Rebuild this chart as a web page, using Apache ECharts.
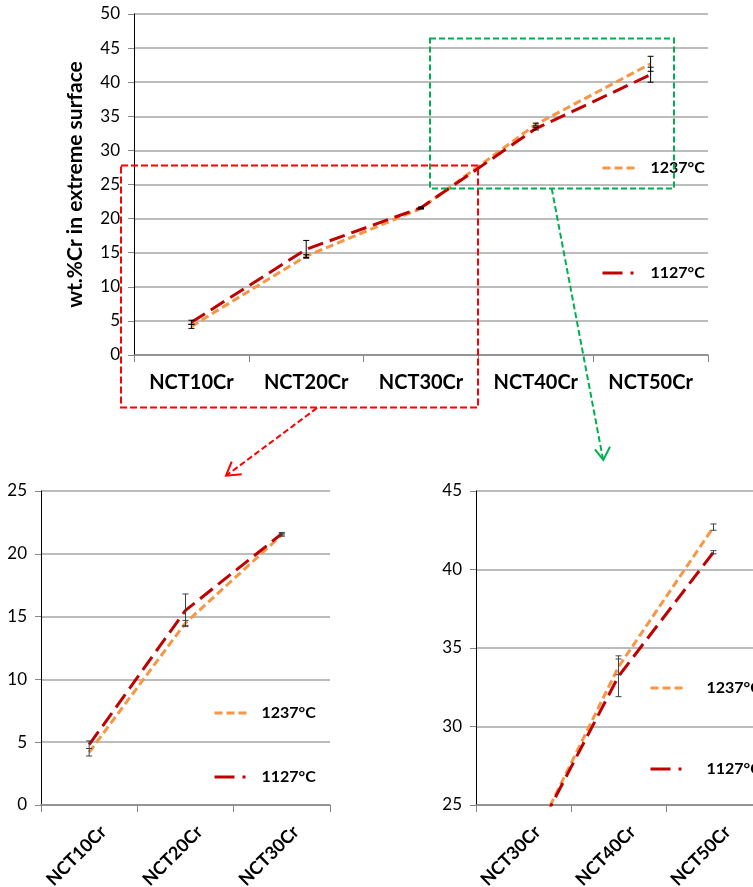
<!DOCTYPE html>
<html><head><meta charset="utf-8">
<script src="https://cdn.jsdelivr.net/npm/echarts@6/dist/echarts.min.js"></script>
<style>html,body{margin:0;padding:0;background:#fff}#c{width:753px;height:887px}</style>
</head><body><div id="c"></div>
<script>
// ---- data ----
const categories = ['NCT10Cr', 'NCT20Cr', 'NCT30Cr', 'NCT40Cr', 'NCT50Cr'];
const seriesNames = ['1237°C', '1127°C'];
const values1237 = [4.2, 14.5, 21.5, 33.8, 42.7];
const values1127 = [4.8, 15.5, 21.6, 33.2, 41.1];
const err1237 = [0.3, 0.2, 0.1, 0.2, 1.1];
const err1127 = [0.3, 1.3, 0.1, 0.2, 1.1];
const err1237Zoom = [0.3, 0.2, 0.1, 0.5, 0.2];
const err1127Zoom = [0.3, 1.3, 0.1, 1.3, 0.1];
const yTopTicks = [0, 50, 5];      // min, max, interval
const yLeftTicks = [0, 25, 5];
const yRightTicks = [25, 45, 5];
const leftRange = [0, 3];
const rightRange = [2, 5];

const FONT = 'Lato';
const ORANGE = '#F79646', RED = '#C00000';
const DASH_ORANGE = [8, 4];
const DASH_RED = [16, 7];
const DASH_RED_LEGEND = [20, 8, 3, 8];

function errRender(color) {
  return function (params, api) {
    const x = api.value(0), lo = api.value(1), hi = api.value(2);
    const p1 = api.coord([x, hi]), p2 = api.coord([x, lo]);
    const w = 3;
    const style = { stroke: color, lineWidth: 1 };
    return { type: 'group', children: [
      { type: 'line', shape: { x1: p1[0], y1: p1[1], x2: p2[0], y2: p2[1] }, style },
      { type: 'line', shape: { x1: p1[0] - w, y1: p1[1], x2: p1[0] + w, y2: p1[1] }, style },
      { type: 'line', shape: { x1: p2[0] - w, y1: p2[1], x2: p2[0] + w, y2: p2[1] }, style }
    ]};
  };
}

function errData(vals, errs, range) {
  const out = [];
  for (let i = range[0]; i < range[1]; i++) out.push([i - range[0], vals[i] - errs[i], vals[i] + errs[i]]);
  return out;
}

function seriesFor(g, range, e1237, e1127, errColor) {
  return [
    { type: 'line', name: seriesNames[0], xAxisIndex: g, yAxisIndex: g, data: values1237.slice(range[0], range[1]),
      symbol: 'none', clip: true, lineStyle: { color: ORANGE, width: 3, type: DASH_ORANGE }, itemStyle: { color: ORANGE }, z: 3 },
    { type: 'line', name: seriesNames[1], xAxisIndex: g, yAxisIndex: g, data: values1127.slice(range[0], range[1]),
      symbol: 'none', clip: true, lineStyle: { color: RED, width: 3, type: DASH_RED }, itemStyle: { color: RED }, z: 4 },
    { type: 'custom', xAxisIndex: g, yAxisIndex: g, clip: true, z: 5, renderItem: errRender(errColor),
      encode: { x: 0, y: [1, 2] }, data: errData(values1237, e1237, range) },
    { type: 'custom', xAxisIndex: g, yAxisIndex: g, clip: true, z: 5, renderItem: errRender(errColor),
      encode: { x: 0, y: [1, 2] }, data: errData(values1127, e1127, range) }
  ];
}

function catAxis(g, data, rotated) {
  return {
    type: 'category', gridIndex: g, data: data, boundaryGap: true,
    axisLine: { show: true, onZero: false, lineStyle: { color: '#868686', width: 1.5 } },
    axisTick: { show: true, length: 7, lineStyle: { color: '#868686', width: 1 } },
    splitLine: { show: false },
    axisLabel: rotated ? {
      rotate: 45, fontFamily: FONT, fontWeight: 'bold', fontSize: 18, color: '#000', margin: 38,
      padding: [0, -20, 0, 0], interval: 0
    } : { fontFamily: FONT, fontWeight: 'bold', fontSize: 20, color: '#000', margin: 18, interval: 0 }
  };
}

function valAxis(g, t, extra) {
  return Object.assign({
    type: 'value', gridIndex: g, min: t[0], max: t[1], interval: t[2],
    axisLine: { show: true, lineStyle: { color: '#000', width: 1 } },
    axisTick: { show: true, length: 6, lineStyle: { color: '#868686' } },
    axisLabel: { fontFamily: FONT, fontSize: 17, color: '#000', margin: 14 },
    splitLine: { show: true, lineStyle: { color: '#A6A6A6', width: 1.5 } }
  }, extra || {});
}

function legendAt(left, top, gap, textGap) {
  return { orient: 'vertical', left: left, top: top, padding: 0, itemWidth: 32, itemHeight: 14, itemGap: gap,
    itemStyle: { opacity: 0 },
    data: [
      { name: seriesNames[0], lineStyle: { color: ORANGE, width: 3, type: DASH_ORANGE } },
      { name: seriesNames[1], lineStyle: { color: RED, width: 3, type: DASH_RED_LEGEND } }
    ],
    textStyle: { fontFamily: FONT, fontWeight: 'bold', fontSize: 16, color: '#000', padding: [0, 0, 0, textGap] },
    selectedMode: false };
}

const chart = echarts.init(document.getElementById('c'), null, { renderer: 'canvas' });
chart.setOption({
  animation: false,
  backgroundColor: '#fff',
  grid: [
    { left: 134, top: 14, width: 574, height: 341, outerBoundsMode: 'none', containLabel: false },
    { left: 41, top: 491, width: 289, height: 314, outerBoundsMode: 'none', containLabel: false },
    { left: 476, top: 491, width: 285, height: 314, outerBoundsMode: 'none', containLabel: false }
  ],
  xAxis: [
    catAxis(0, categories, false),
    catAxis(1, categories.slice(leftRange[0], leftRange[1]), true),
    catAxis(2, categories.slice(rightRange[0], rightRange[1]), true)
  ],
  yAxis: [
    valAxis(0, yTopTicks, { name: 'wt.%Cr in extreme surface', nameLocation: 'middle', nameGap: 48,
      nameTextStyle: { fontFamily: FONT, fontWeight: 'bold', fontSize: 21, color: '#000' } }),
    valAxis(1, yLeftTicks),
    valAxis(2, yRightTicks)
  ],
  legend: [
    legendAt(601, 160, 89, 11),
    legendAt(213, 705, 48, 10),
    legendAt(649, 680, 65, 19)
  ],
  series: [].concat(
    seriesFor(0, [0, 5], err1237, err1127, '#000'),
    seriesFor(1, leftRange, err1237, err1127, '#404040'),
    seriesFor(2, rightRange, err1237Zoom, err1127Zoom, '#404040')
  ),
  graphic: [
    { type: 'rect', z: 100, shape: { x: 121, y: 165.5, width: 357, height: 242 },
      style: { fill: 'none', stroke: '#FF0000', lineWidth: 2, lineDash: [7, 3] } },
    { type: 'rect', z: 100, shape: { x: 430, y: 38.5, width: 244, height: 150 },
      style: { fill: 'none', stroke: '#00B050', lineWidth: 2, lineDash: [6, 3] } },
    { type: 'line', z: 100, shape: { x1: 317, y1: 408, x2: 227, y2: 475 },
      style: { stroke: '#FF0000', lineWidth: 2, lineDash: [6, 3] } },
    { type: 'polyline', z: 100, shape: { points: [[231.7, 461.7], [226, 475.7], [241.7, 474.3]] },
      style: { stroke: '#FF0000', lineWidth: 2, fill: 'none' } },
    { type: 'line', z: 100, shape: { x1: 551.7, y1: 188.5, x2: 603, y2: 459 },
      style: { stroke: '#00B050', lineWidth: 2, lineDash: [6, 3] } },
    { type: 'polyline', z: 100, shape: { points: [[595, 449.3], [603.3, 460], [610, 446.7]] },
      style: { stroke: '#00B050', lineWidth: 2, fill: 'none' } }
  ]
});
</script></body></html>
